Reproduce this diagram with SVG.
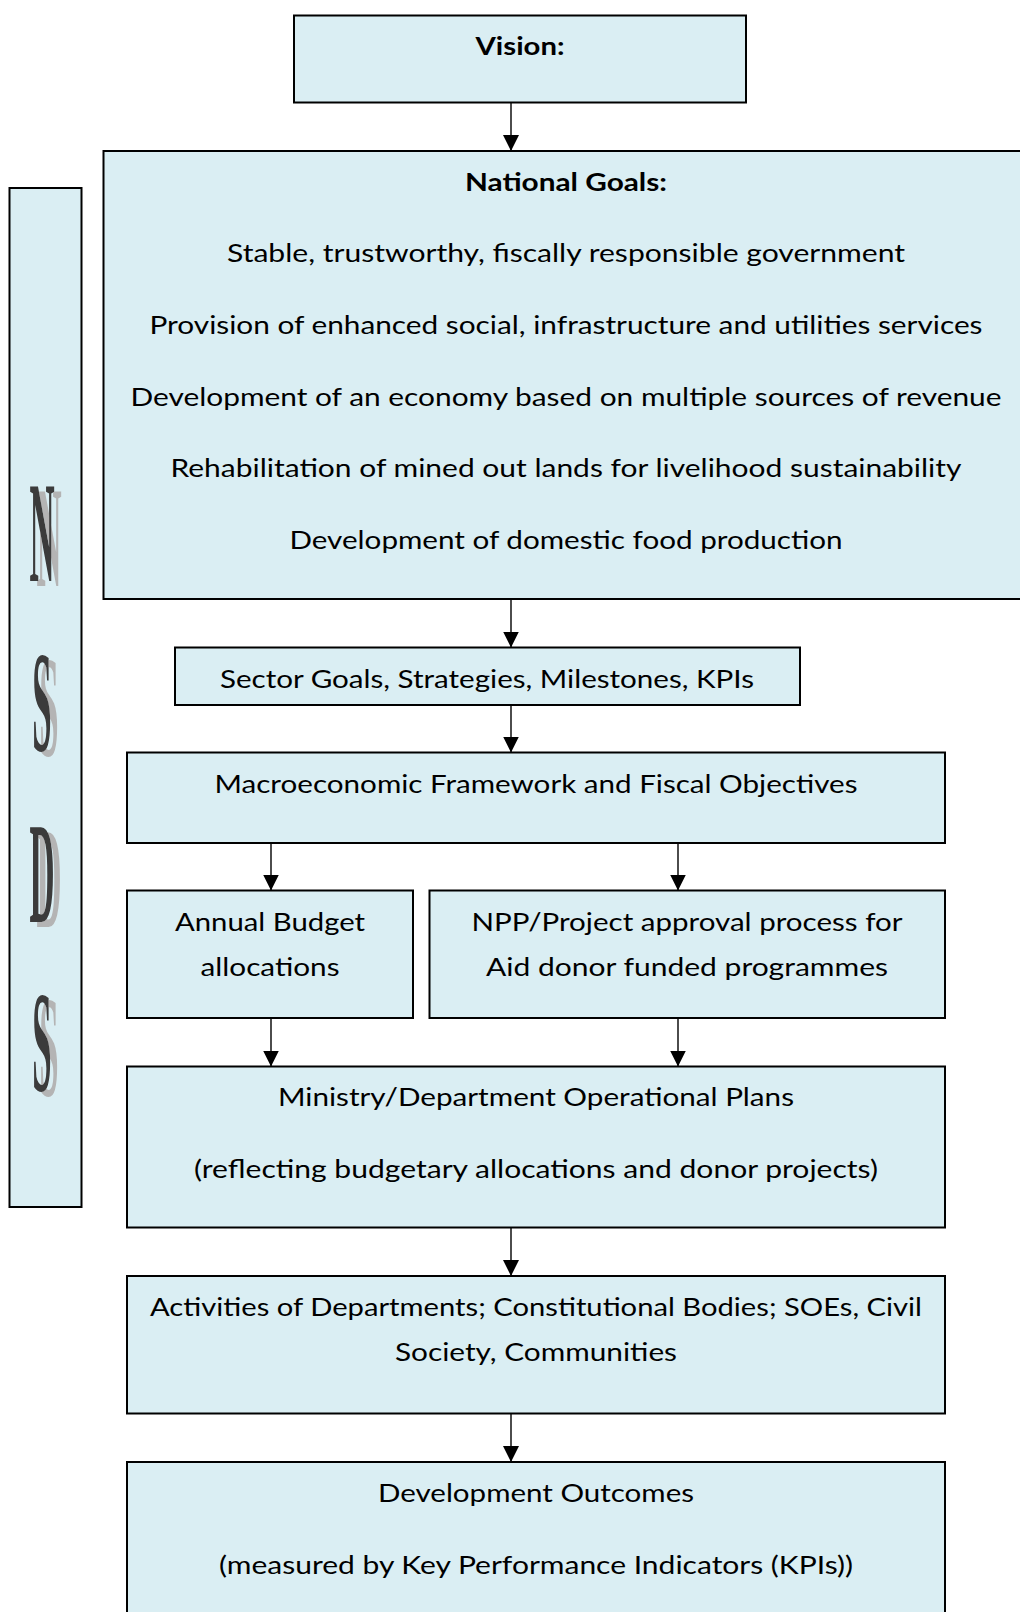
<svg xmlns="http://www.w3.org/2000/svg" width="1020" height="1612" viewBox="0 0 1020 1612">
<defs>
<style>
.box{fill:#DAEEF3;stroke:#000;stroke-width:2}
.t{font-family:Lato,"Open Sans","Liberation Sans",sans-serif;font-size:25px;fill:#000;text-anchor:middle}
.b{font-weight:bold}
.conn{stroke:#000;stroke-width:1.4;fill:none}
.big{font-family:"Liberation Serif",serif;font-size:145px;font-weight:bold;text-anchor:middle;fill:#3a3a3a}
</style>
<filter id="shadow" x="-60%" y="-5%" width="220%" height="115%">
<feOffset in="SourceAlpha" dx="7" dy="5" result="o"/>
<feFlood flood-color="#b4b4b4" result="f"/>
<feComposite in="f" in2="o" operator="in" result="s"/>
<feMerge><feMergeNode in="s"/><feMergeNode in="SourceGraphic"/></feMerge>
</filter>
<marker id="arr" viewBox="0 0 16 16" refX="16" refY="8" markerWidth="16" markerHeight="16" markerUnits="userSpaceOnUse" orient="auto">
<path d="M0,0 L16,8 L0,16 Z" fill="#000"/>
</marker>
</defs>
<rect width="1020" height="1612" fill="#fff"/>

<g id="connectors">
<line class="conn" x1="511" y1="102.5" x2="511" y2="151" marker-end="url(#arr)"/>
<line class="conn" x1="511" y1="599" x2="511" y2="647.5" marker-end="url(#arr)"/>
<line class="conn" x1="511" y1="705" x2="511" y2="752.5" marker-end="url(#arr)"/>
<line class="conn" x1="271" y1="843" x2="271" y2="890.5" marker-end="url(#arr)"/>
<line class="conn" x1="678" y1="843" x2="678" y2="890.5" marker-end="url(#arr)"/>
<line class="conn" x1="271" y1="1018" x2="271" y2="1066.5" marker-end="url(#arr)"/>
<line class="conn" x1="678" y1="1018" x2="678" y2="1066.5" marker-end="url(#arr)"/>
<line class="conn" x1="511" y1="1227.5" x2="511" y2="1276" marker-end="url(#arr)"/>
<line class="conn" x1="511" y1="1413.5" x2="511" y2="1462" marker-end="url(#arr)"/>
</g>

<g id="nsds">
<rect class="box" x="9.5" y="188" width="72" height="1019"/>
<g filter="url(#shadow)">
<text class="big" transform="translate(42,581) scale(0.24,1)">N</text>
<text class="big" transform="translate(42,751) scale(0.24,1)">S</text>
<text class="big" transform="translate(42,922) scale(0.24,1)">D</text>
<text class="big" transform="translate(42,1091) scale(0.24,1)">S</text>
</g>
</g>

<g id="vision">
<rect class="box" x="294" y="15.5" width="452" height="87"/>
<text class="t b" x="520" y="55" textLength="89" lengthAdjust="spacingAndGlyphs">Vision:</text>
</g>

<g id="national-goals">
<rect class="box" x="103.5" y="151" width="930" height="448"/>
<text class="t b" x="566" y="190.5" textLength="202" lengthAdjust="spacingAndGlyphs">National Goals:</text>
<text class="t" x="566" y="262" textLength="678" lengthAdjust="spacingAndGlyphs">Stable, trustworthy, fiscally responsible government</text>
<text class="t" x="566" y="334" textLength="833" lengthAdjust="spacingAndGlyphs">Provision of enhanced social, infrastructure and utilities services</text>
<text class="t" x="566" y="406" textLength="871" lengthAdjust="spacingAndGlyphs">Development of an economy based on multiple sources of revenue</text>
<text class="t" x="566" y="477" textLength="791" lengthAdjust="spacingAndGlyphs">Rehabilitation of mined out lands for livelihood sustainability</text>
<text class="t" x="566" y="549" textLength="553" lengthAdjust="spacingAndGlyphs">Development of domestic food production</text>
</g>

<g id="sector">
<rect class="box" x="175" y="647.5" width="625" height="57.5"/>
<text class="t" x="487" y="688" textLength="534" lengthAdjust="spacingAndGlyphs">Sector Goals, Strategies, Milestones, KPIs</text>
</g>

<g id="macro">
<rect class="box" x="127" y="752.5" width="818" height="90.5"/>
<text class="t" x="536" y="792.5" textLength="643" lengthAdjust="spacingAndGlyphs">Macroeconomic Framework and Fiscal Objectives</text>
</g>

<g id="annual-budget">
<rect class="box" x="127" y="890.5" width="286" height="127.5"/>
<text class="t" x="270" y="931" textLength="190" lengthAdjust="spacingAndGlyphs">Annual Budget</text>
<text class="t" x="270" y="975.5" textLength="139" lengthAdjust="spacingAndGlyphs">allocations</text>
</g>

<g id="npp">
<rect class="box" x="429.5" y="890.5" width="515.5" height="127.5"/>
<text class="t" x="687" y="931" textLength="431" lengthAdjust="spacingAndGlyphs">NPP/Project approval process for</text>
<text class="t" x="687" y="975.5" textLength="402" lengthAdjust="spacingAndGlyphs">Aid donor funded programmes</text>
</g>

<g id="ministry">
<rect class="box" x="127" y="1066.5" width="818" height="161"/>
<text class="t" x="536" y="1106" textLength="516" lengthAdjust="spacingAndGlyphs">Ministry/Department Operational Plans</text>
<text class="t" x="536" y="1178" textLength="684" lengthAdjust="spacingAndGlyphs">(reflecting budgetary allocations and donor projects)</text>
</g>

<g id="activities">
<rect class="box" x="127" y="1276" width="818" height="137.5"/>
<text class="t" x="536" y="1316" textLength="772" lengthAdjust="spacingAndGlyphs">Activities of Departments; Constitutional Bodies; SOEs, Civil</text>
<text class="t" x="536" y="1361" textLength="282" lengthAdjust="spacingAndGlyphs">Society, Communities</text>
</g>

<g id="outcomes">
<rect class="box" x="127" y="1462" width="818" height="180"/>
<text class="t" x="536" y="1502" textLength="316" lengthAdjust="spacingAndGlyphs">Development Outcomes</text>
<text class="t" x="536" y="1574" textLength="634" lengthAdjust="spacingAndGlyphs">(measured by Key Performance Indicators (KPIs))</text>
</g>
</svg>
